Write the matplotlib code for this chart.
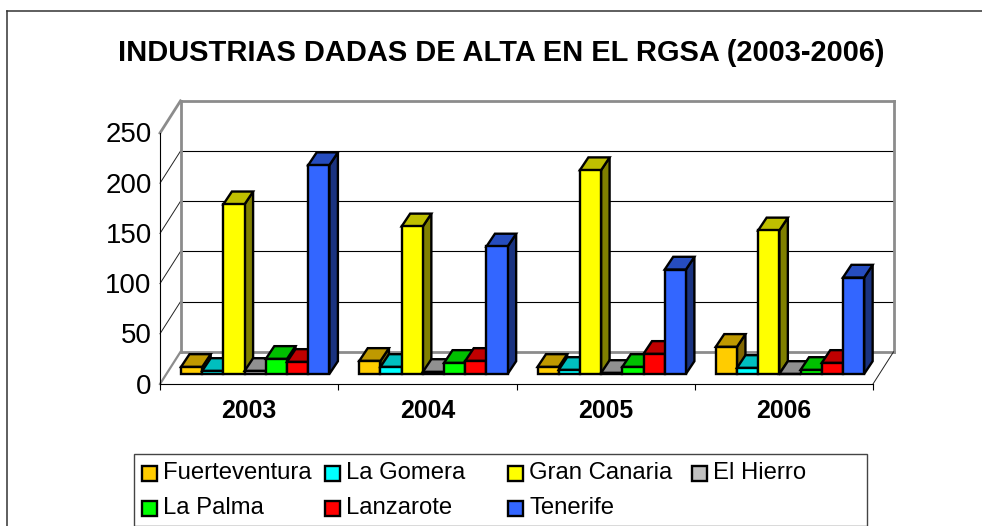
import numpy as np
import matplotlib
matplotlib.use("Agg")
import matplotlib.pyplot as plt
from matplotlib.patches import Polygon, Rectangle
from matplotlib.transforms import ScaledTranslation

plt.rcParams["font.family"] = ["Liberation Sans", "DejaVu Sans"]

years = ["2003", "2004", "2005", "2006"]
islands = ["Fuerteventura", "La Gomera", "Gran Canaria", "El Hierro", "La Palma", "Lanzarote", "Tenerife"]
fuerteventura = [7, 13, 7, 27]
la_gomera = [3, 7, 4, 6]
gran_canaria = [169, 147, 203, 143]
el_hierro = [3, 2, 1, 0]
la_palma = [15, 11, 7, 4]
lanzarote = [12, 13, 20, 11]
tenerife = [208, 127, 104, 96]
series = [fuerteventura, la_gomera, gran_canaria, el_hierro, la_palma, lanzarote, tenerife]
colors = ["#FFCC00", "#00FFFF", "#FFFF00", "#C0C0C0", "#00FF00", "#FF0000", "#3366FF"]
yticks = [0, 50, 100, 150, 200, 250]

W, H = 982, 526


def shade(c, f):
    r, g, b = matplotlib.colors.to_rgb(c)
    return (r * f, g * f, b * f)


fig = plt.figure(figsize=(W / 100, H / 100), dpi=100)

# page frame and title live in a pixel overlay
bg = fig.add_axes([0, 0, 1, 1])
bg.set_xlim(0, W)
bg.set_ylim(H, 0)
bg.axis("off")
bg.plot([7, 7], [H + 5, 11], color="#333333", lw=1.1, clip_on=False)
bg.plot([7, W + 5], [11, 11], color="#333333", lw=1.1)
bg.text(501, 53, "INDUSTRIAS DADAS DE ALTA EN EL RGSA (2003-2006)", ha="center", va="center",
        fontsize=20.9, fontweight="bold")

# plot axes: front floor edge, one y unit = one pixel
left, right, base, top = 160, 873, 384, 133
ax = fig.add_axes([left / W, 1 - base / H, (right - left) / W, (base - top) / H])
ax.set_xlim(0, 4)
ax.set_ylim(0, 250)
ax.patch.set_visible(False)
for s in ["top", "right"]:
    ax.spines[s].set_visible(False)
for s in ["left", "bottom"]:
    ax.spines[s].set_linewidth(0.8)
ax.set_yticks(yticks)
ax.tick_params(axis="y", length=0, labelsize=19.9, pad=6)
up = ScaledTranslation(0, 0.5 / 100, fig.dpi_scale_trans)
for label in ax.get_yticklabels():
    label.set_transform(label.get_transform() + up)
ax.set_xticks(range(5))
ax.set_xticklabels([])
ax.tick_params(axis="x", length=4, width=0.8)
for i, y in enumerate(years):
    ax.text(i + 0.5, -27, y, ha="center", va="center", fontsize=17.9, fontweight="bold")

# depth of the box and of the bars, in data units
px = 4 / (right - left)
wall_dx, wall_dy = 20.5 * px, 32
bar_dx, bar_dy = 8.5 * px, 12.7
floor = 10
bar_w = 21.2 * px
start = 21 * px

grey = "#8C8C8C"
for v in yticks[1:-1]:
    ax.plot([wall_dx, 4 + wall_dx], [v + wall_dy] * 2, color="black", lw=0.8, clip_on=False, zorder=1)
    ax.plot([0, wall_dx], [v, v + wall_dy], color="#222222", lw=0.7, clip_on=False, zorder=1)
ax.plot([wall_dx, 4 + wall_dx], [250 + wall_dy] * 2, color=grey, lw=2, clip_on=False, zorder=1)
ax.plot([wall_dx, 4 + wall_dx], [wall_dy] * 2, color=grey, lw=2, clip_on=False, zorder=1)
ax.plot([wall_dx, wall_dx], [wall_dy, 250 + wall_dy], color=grey, lw=2, clip_on=False, zorder=1)
ax.plot([4 + wall_dx, 4 + wall_dx], [wall_dy, 250 + wall_dy], color=grey, lw=2, clip_on=False, zorder=1)
ax.plot([0, wall_dx], [250, 250 + wall_dy], color=grey, lw=2, clip_on=False, zorder=1)
ax.plot([0, wall_dx], [0, wall_dy], color=grey, lw=1.6, clip_on=False, zorder=1)
ax.plot([4, 4 + wall_dx], [0, wall_dy], color="#222222", lw=0.7, clip_on=False, zorder=1)

ec = dict(edgecolor="black", linewidth=1.7, joinstyle="miter")
z = 3
for c in range(4):
    # each bar painted whole, left to right, so the next one covers it
    for k in range(len(series)):
        x0 = c + start + k * bar_w
        x1 = x0 + bar_w
        v = series[k][c]
        y = floor + v
        ax.add_patch(Polygon([(x1, floor), (x1 + bar_dx, floor + bar_dy), (x1 + bar_dx, y + bar_dy), (x1, y)],
                             facecolor=shade(colors[k], 0.5), zorder=z, clip_on=False, **ec))
        ax.add_patch(Polygon([(x0, y), (x0 + bar_dx, y + bar_dy), (x1 + bar_dx, y + bar_dy), (x1, y)],
                             facecolor=shade(colors[k], 0.75), zorder=z, clip_on=False, **ec))
        ax.bar(x0 + bar_w / 2, v, bar_w, bottom=floor, color=colors[k], zorder=z + 0.5, clip_on=False,
               edgecolor="black", linewidth=1.7)
        z += 1

# legend
bg.add_patch(Rectangle((134, 454), 733, 71.5, facecolor="white", edgecolor="#444444", lw=1.0, zorder=50))
col_x = [142, 325, 508, 692]
for k, name in enumerate(islands):
    lx = col_x[k % 4]
    ly = 473 if k < 4 else 508
    bg.add_patch(Rectangle((lx, ly - 7.5), 15, 15, facecolor=colors[k], edgecolor="black", lw=1.7, zorder=51))
    bg.text(lx + 21.5, ly, name, va="center", ha="left", fontsize=17.2, zorder=51)

fig.savefig("out.png", dpi=100)
